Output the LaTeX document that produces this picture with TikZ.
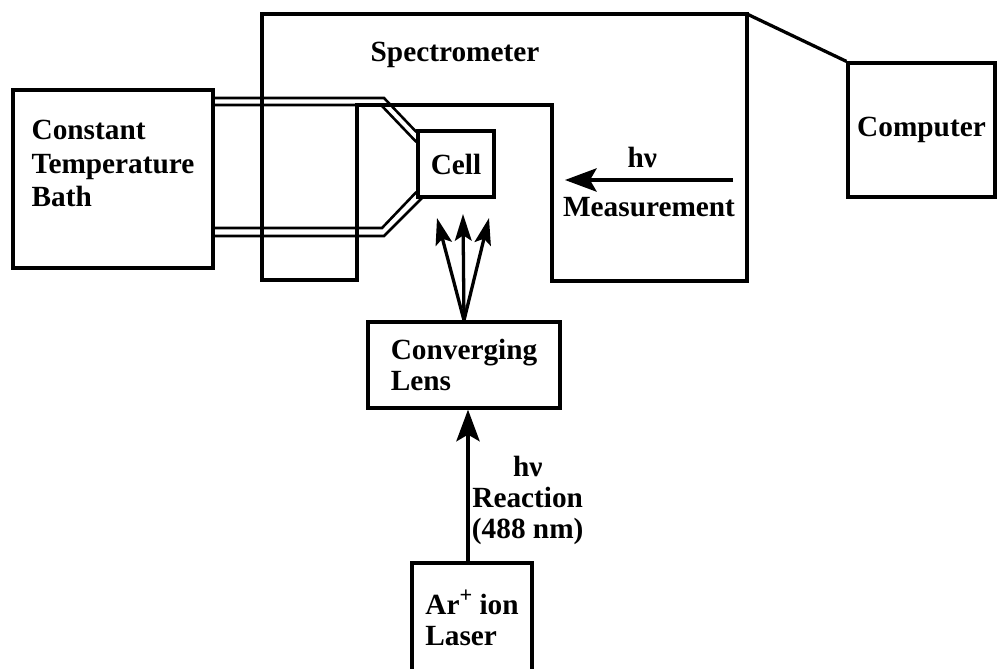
\documentclass[tikz,border=0pt]{standalone}
\usepackage{fontspec}
\setmainfont{Liberation Serif}
\usepackage{tikz}
\usetikzlibrary{arrows.meta}
\newcommand{\lblfont}{\bfseries\fontsize{25}{26.5}\selectfont}
\newcommand{\ionplus}{\raisebox{0.4em}{\fontsize{19}{19}\selectfont +}}

\begin{document}
\begin{tikzpicture}[
  x=0.3mm, y=-0.3mm,
  box/.style={draw, line width=2.8pt, inner sep=1pt, align=left, font=\lblfont},
  lbl/.style={inner sep=2pt, align=center, font=\lblfont},
  wall/.style={line width=2.8pt, line join=miter},
  tube/.style={line width=2.2pt},
  arr/.style={-{Stealth[length=9.5mm, width=7mm, inset=2mm]}, line width=2.8pt},
  beam/.style={-{Stealth[length=8mm, width=5mm, inset=1.6mm]}, line width=2.8pt},
  >=Stealth
]
\path[use as bounding box, clip] (0,0) rectangle (998,669);

\node[box, minimum width=60mm, minimum height=53.4mm] (bath) at (113, 179) {Constant\\[2pt]Temperature\\[2pt]Bath\\\mbox{}};
\node[box, minimum width=22.8mm, minimum height=19.8mm, align=center] (cell) at (456, 164) {Cell};
\node[box, minimum width=44.1mm, minimum height=40.2mm] (computer) at (921.5, 130) {Computer};
\node[box, minimum width=57.6mm, minimum height=25.8mm] (lens) at (464, 365) {Converging\\Lens};
\node[box, minimum width=36mm, minimum height=33mm] (laser) at (472, 618) {Ar\ionplus\ ion\\Laser};

% spectrometer housing
\draw[wall] (262, 14) coordinate (specNW) -- (747, 14) coordinate (specNE)
  -- (747, 281) -- (552, 281) -- (552, 105) -- (357, 105) -- (357, 280) -- (262, 280) -- cycle;
\node[lbl] (spec) at (455, 55) {Spectrometer};
\draw[wall] (specNE) -- (computer.north west);

% water lines bath -> cell
\coordinate (topA) at (384, 98);
\coordinate (topB) at (381, 105);
\coordinate (botA) at (382, 228);
\coordinate (botB) at (384, 236);
\draw[tube] (bath.east |- topA) -- (topA) -- (cell.west |- 0, 132);
\draw[tube] (bath.east |- topB) -- (topB) -- (cell.west |- 0, 142);
\draw[tube] (bath.east |- botA) -- (botA) -- (cell.west |- 0, 192);
\draw[tube] (bath.east |- botB) -- (botB) -- (423, 197);

% measurement beam
\coordinate (measSrc) at (733, 180);
\coordinate (measTip) at (565, 180);
\draw[arr] (measSrc) -- node[lbl, above=2.5mm, xshift=-2mm] {hν} node[lbl, below=4mm] {Measurement} (measTip);

% focused beams
\coordinate (tipL) at (437, 218);
\coordinate (tipM) at (463, 214);
\coordinate (tipR) at (489, 218);
\foreach \t in {tipL, tipM, tipR}
  \draw[beam] (lens.north) -- (\t);

% reaction beam
\draw[arr] ([xshift=-1.2mm]laser.north) -- ([xshift=-1.2mm]laser.north |- lens.south)
  node[lbl, pos=0.40, anchor=west] {hν\\Reaction\\(488 nm)};

\end{tikzpicture}
\end{document}
